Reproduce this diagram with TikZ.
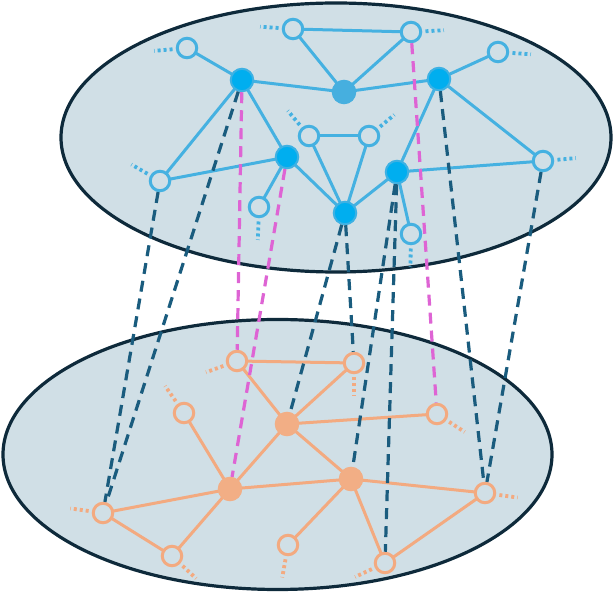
\documentclass[tikz,border=0pt]{standalone}
\usetikzlibrary{calc}
\definecolor{ellfill}{HTML}{D0DFE6}
\definecolor{ellline}{HTML}{0E2A3B}
\definecolor{blueline}{HTML}{45B1E1}
\definecolor{bluefill}{HTML}{00AEEF}
\definecolor{bluering}{HTML}{3DB1E3}
\definecolor{cfill}{HTML}{46AFDF}
\definecolor{orangeline}{HTML}{F3AA80}
\definecolor{orangefill}{HTML}{F2AE85}
\definecolor{darkdash}{HTML}{1A5C7E}
\definecolor{magdash}{HTML}{DE64D4}
\tikzset{
  ell/.style={fill=ellfill, draw=ellline, line width=3.2pt},
  bopen/.style={circle, draw=blueline, line width=3pt, fill=ellfill, minimum size=19.5pt, inner sep=0pt},
  bfull/.style={circle, draw=bluering, line width=2pt, fill=bluefill, minimum size=22.5pt, inner sep=0pt},
  cfull/.style={circle, draw=cfill, line width=1pt, fill=cfill, minimum size=23.5pt, inner sep=0pt},
  oopen/.style={circle, draw=orangeline, line width=3pt, fill=ellfill, minimum size=19.5pt, inner sep=0pt},
  ofull/.style={circle, draw=orangefill, line width=1pt, fill=orangefill, minimum size=23.5pt, inner sep=0pt},
  bedge/.style={draw=blueline, line width=3pt},
  oedge/.style={draw=orangeline, line width=3pt},
  dkdash/.style={draw=darkdash, line width=3.2pt, dash pattern=on 11pt off 7pt},
  mgdash/.style={draw=magdash, line width=3.2pt, dash pattern=on 11pt off 7pt},
  bstub/.style={draw=blueline, line width=3.8pt, dash pattern=on 3pt off 3pt},
  ostub/.style={draw=orangeline, line width=3.8pt, dash pattern=on 3pt off 3pt},
}
\newcommand{\stub}[3]{\draw[#1] ([shift={(#3:14.5)}]#2.center) -- ([shift={(#3:33)}]#2.center);}
\begin{document}
\begin{tikzpicture}[x=1pt,y=-1pt]
\useasboundingbox (0,0) rectangle (614,593);
% ellipses
\draw[ell] (336,137.5) ellipse [x radius=275, y radius=134.5];
\draw[ell] (277.5,454.5) ellipse [x radius=274.5, y radius=135];

% top node coordinates
\coordinate (T1) at (187,48);
\coordinate (T2) at (293,29);
\coordinate (T3) at (411,32);
\coordinate (T4) at (498,52);
\coordinate (A) at (242,80);
\coordinate (C) at (344,92);
\coordinate (B) at (439,79);
\coordinate (T5) at (309,136);
\coordinate (T6) at (369,136);
\coordinate (D) at (287,157);
\coordinate (E) at (397,172);
\coordinate (F) at (345,213);
\coordinate (T7) at (160,181);
\coordinate (T8) at (259,207);
\coordinate (T9) at (411,234);
\coordinate (T10) at (543,161);
% bottom node coordinates
\coordinate (P1) at (237,361);
\coordinate (P2) at (354,363);
\coordinate (P3) at (184,413);
\coordinate (G) at (287,424);
\coordinate (P4) at (437,414);
\coordinate (H) at (230,489);
\coordinate (I) at (351,479);
\coordinate (P5) at (103,513);
\coordinate (P6) at (172,556);
\coordinate (P7) at (288,545);
\coordinate (P8) at (485,493);
\coordinate (P9) at (385,563);

% top solid edges
\foreach \a/\b in {T1/A, T2/T3, T2/C, T3/C, A/C, C/B, B/T4, A/T7, A/D, T7/D, D/T8, D/F, T5/T6, T5/F, T6/F, F/E, E/B, E/T10, E/T9, B/T10}
  \draw[bedge] (\a) -- (\b);
% bottom solid edges
\foreach \a/\b in {P1/P2, P1/G, G/P2, G/P4, G/H, G/I, P3/H, H/P5, H/I, H/P6, P5/P6, I/P7, I/P9, I/P8, P8/P9}
  \draw[oedge] (\a) -- (\b);

% stubs
\stub{bstub}{T1}{175}
\stub{bstub}{T2}{184}
\stub{bstub}{T3}{357}
\stub{bstub}{T4}{4}
\stub{bstub}{T5}{230}
\stub{bstub}{T6}{320}
\stub{bstub}{T7}{210}
\stub{bstub}{T8}{92}
\stub{bstub}{T9}{91}
\stub{bstub}{T10}{355}
\stub{ostub}{P1}{160}
\stub{ostub}{P2}{90}
\stub{ostub}{P3}{235}
\stub{ostub}{P4}{33}
\stub{ostub}{P5}{188}
\stub{ostub}{P6}{43}
\stub{ostub}{P7}{100}
\stub{ostub}{P8}{8}
\stub{ostub}{P9}{155}

% nodes
\node[bopen] (n1) at (T1) {};
\node[bopen] (n2) at (T2) {};
\node[bopen] (n3) at (T3) {};
\node[bopen] (n4) at (T4) {};
\node[bfull] (nA) at (A) {};
\node[cfull] (nC) at (C) {};
\node[bfull] (nB) at (B) {};
\node[bopen] (n5) at (T5) {};
\node[bopen] (n6) at (T6) {};
\node[bfull] (nD) at (D) {};
\node[bfull] (nE) at (E) {};
\node[bfull] (nF) at (F) {};
\node[bopen] (n7) at (T7) {};
\node[bopen] (n8) at (T8) {};
\node[bopen] (n9) at (T9) {};
\node[bopen] (n10) at (T10) {};
\node[oopen] (m1) at (P1) {};
\node[oopen] (m2) at (P2) {};
\node[oopen] (m3) at (P3) {};
\node[ofull] (mG) at (G) {};
\node[oopen] (m4) at (P4) {};
\node[ofull] (mH) at (H) {};
\node[ofull] (mI) at (I) {};
\node[oopen] (m5) at (P5) {};
\node[oopen] (m6) at (P6) {};
\node[oopen] (m7) at (P7) {};
\node[oopen] (m8) at (P8) {};
\node[oopen] (m9) at (P9) {};

% inter-layer dashed links
\draw[dkdash] (nA) -- (m5);
\draw[dkdash] (n7) -- (m5);
\draw[dkdash] (nF) -- (mG);
\draw[dkdash] (nF) -- (m2);
\draw[dkdash] (nE) -- (mI);
\draw[dkdash] (nE) -- (m9);
\draw[dkdash] (nB) -- (m8);
\draw[dkdash] (n10) -- (m8);
\draw[mgdash] (nA) -- (m1);
\draw[mgdash] (nD) -- (mH);
\draw[mgdash] (n3) -- (m4);
\end{tikzpicture}
\end{document}
